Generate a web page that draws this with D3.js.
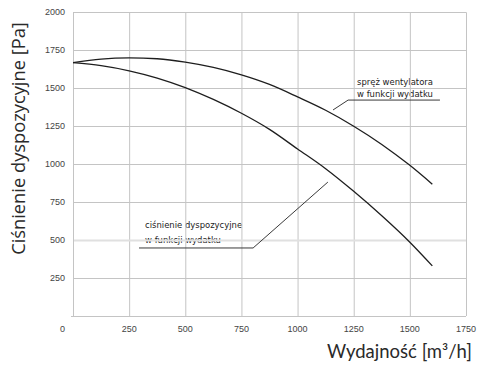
<!DOCTYPE html>
<html>
    <head>
        <meta charset="utf-8">
        <title>Ciśnienie dyspozycyjne</title>
        <script src="https://d3js.org/d3.v7.min.js"></script>
        <style>
            body { margin: 0; background: #fff; }
            .grid { stroke: #c4c4c4; stroke-width: 1px; }
            .tick-label { font-family: 'Liberation Sans', Arial, sans-serif; font-size: 9px; fill: #444; }
            .note { font-family: 'Liberation Sans Narrow', 'DejaVu Sans Condensed', sans-serif; font-size: 9.4px; fill: #222; }
            .curve { fill: none; stroke: #1e1e1e; stroke-width: 1.3px; }
            .leader { fill: none; stroke: #3a3a3a; stroke-width: 1px; }
        </style>
    </head>
    <body>
        <div id="chart"></div>
        <script>
            // airflow [m3/h]
            const flow = [0, 125, 250, 375, 500, 625, 750, 875, 1000, 1125, 1250, 1375, 1500, 1600];
            // fan pressure curve (spręż wentylatora) [Pa]
            const fanPressure = [1668, 1692, 1700, 1694, 1672, 1637, 1588, 1525, 1443, 1355, 1250, 1130, 992, 868];
            // available pressure curve (ciśnienie dyspozycyjne) [Pa]
            const availPressure = [1668, 1649, 1615, 1567, 1504, 1426, 1335, 1229, 1100, 970, 821, 660, 486, 330];
            const xTicks = [250, 500, 750, 1000, 1250, 1500, 1750];
            const yTicks = [250, 500, 750, 1000, 1250, 1500, 1750, 2000];

            const W = 477, H = 365;
            const svg = d3.select('#chart').append('svg').attr('width', W).attr('height', H);

            const x = d3.scaleLinear().domain([0, 1750]).range([73, 466]);
            const y = d3.scaleLinear().domain([0, 2000]).range([316, 12.3]);

            // annotation text (drawn under the grid, like in the original)
            const notes = [
                { x: 1265, lines: ['spręż wentylatora', 'w funkcji wydatku'], y0: 1521, y1: 1442 },
                { x: 321, lines: ['ciśnienie dyspozycyjne', 'w funkcji wydatku'], y0: 580, y1: 481 }
            ];
            notes.forEach(function (n) {
                svg.append('text').attr('class', 'note').attr('x', x(n.x)).attr('y', y(n.y0)).text(n.lines[0]);
                svg.append('text').attr('class', 'note').attr('x', x(n.x)).attr('y', y(n.y1)).text(n.lines[1]);
            });

            // grid
            svg.selectAll('.vgrid')
                .data(xTicks)
                .enter()
                .append('line')
                .attr('class', 'grid')
                .attr('x1', (d) => x(d) + 0.5)
                .attr('x2', (d) => x(d) + 0.5)
                .attr('y1', y(2000))
                .attr('y2', y(0));
            svg.selectAll('.hgrid')
                .data(yTicks)
                .enter()
                .append('line')
                .attr('class', 'grid')
                .attr('x1', x(0))
                .attr('x2', x(1750))
                .attr('y1', (d) => Math.round(y(d)) + 0.5)
                .attr('y2', (d) => Math.round(y(d)) + 0.5)
                .style('stroke', (d) => (d === 500 ? '#e0e0e0' : null))
                .style('stroke-width', (d) => (d === 500 ? 2.2 : null));

            // axes
            svg.append('line').attr('class', 'grid')
                .attr('x1', x(0) + 0.5).attr('x2', x(0) + 0.5)
                .attr('y1', y(2000)).attr('y2', y(0) + 0.5);
            svg.append('line').attr('class', 'grid')
                .attr('x1', x(0) - 2).attr('x2', x(1750))
                .attr('y1', Math.round(y(0)) + 0.5).attr('y2', Math.round(y(0)) + 0.5);

            // tick labels
            svg.selectAll('.ylab')
                .data(yTicks)
                .enter()
                .append('text')
                .attr('class', 'tick-label')
                .attr('x', 65)
                .attr('y', (d) => y(d) + 3)
                .attr('text-anchor', 'end')
                .text((d) => d);
            svg.selectAll('.xlab')
                .data(xTicks)
                .enter()
                .append('text')
                .attr('class', 'tick-label')
                .attr('x', (d) => x(d))
                .attr('y', 332)
                .attr('text-anchor', 'middle')
                .text((d) => d);
            svg.append('text').attr('class', 'tick-label')
                .attr('x', 65).attr('y', 332).attr('text-anchor', 'end').text('0');

            // curves
            const line = d3.line()
                .x((d) => x(d[0]))
                .y((d) => y(d[1]))
                .curve(d3.curveMonotoneX);
            svg.append('path').attr('class', 'curve').attr('d', line(d3.zip(flow, fanPressure)));
            svg.append('path').attr('class', 'curve').attr('d', line(d3.zip(flow, availPressure)));

            // leader lines
            const leaders = [
                [[1634, 1422], [1225, 1422], [1158, 1357]],
                [[294, 448], [802, 448], [1135, 882]]
            ];
            const straight = d3.line().x((d) => x(d[0])).y((d) => y(d[1]));
            leaders.forEach(function (l) {
                svg.append('path').attr('class', 'leader').attr('d', straight(l));
            });

            // axis titles
            svg.append('text')
                .attr('transform', 'translate(24.5,138.5) rotate(-90)')
                .attr('text-anchor', 'middle')
                .style('font-family', "'Open Sans', sans-serif")
                .style('font-size', '18.3px')
                .style('fill', '#2a2a2a')
                .text('Ciśnienie dyspozycyjne [Pa]');
            svg.append('text')
                .attr('x', 472)
                .attr('y', 358)
                .attr('text-anchor', 'end')
                .style('font-family', "Lato, sans-serif")
                .style('font-size', '18.5px')
                .style('fill', '#2a2a2a')
                .text('Wydajność [m³/h]');
        </script>
    </body>
</html>
